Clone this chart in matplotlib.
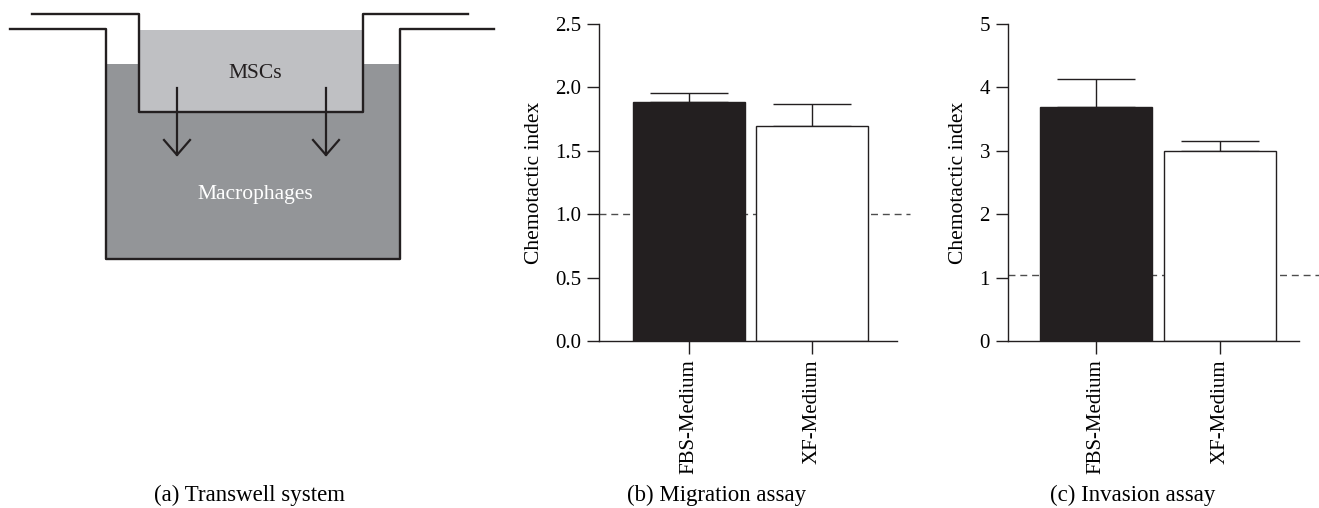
import matplotlib
matplotlib.use("Agg")
import matplotlib.pyplot as plt

plt.rcParams["font.family"] = "Liberation Serif"
plt.rcParams["font.size"] = 15

groups = ["FBS-Medium", "XF-Medium"]
migration = [1.885, 1.695]
migration_err = [0.068, 0.174]
invasion = [3.69, 2.99]
invasion_err = [0.44, 0.165]
bar_colors = ["#231f20", "white"]

W, H = 1319, 508
fig = plt.figure(figsize=(W / 100, H / 100), dpi=100)


def px_axes(x0, y0, x1, y1):
    # pixel box (top-left origin) -> figure axes
    return fig.add_axes([x0 / W, 1 - y1 / H, (x1 - x0) / W, (y1 - y0) / H])


# (a) transwell diagram
ax = px_axes(0, 0, 500, 280)
ax.set_xlim(0, 500)
ax.set_ylim(280, 0)
ax.axis("off")
ax.fill_between([106, 400], 64, 259, color="#939598", lw=0)
ax.fill_between([139, 363], 30, 112, color="#bfc0c3", lw=0)
ax.plot([10, 106, 106, 400, 400, 494], [29, 29, 259, 259, 29, 29], color="#231f20", lw=1.7)
ax.plot([32, 139, 139, 363, 363, 468], [14, 14, 112, 112, 14, 14], color="#231f20", lw=1.7)
for ax_x in [177, 326]:
    ax.plot([ax_x, ax_x], [88, 155], color="#231f20", lw=1.6)
    ax.plot([ax_x - 13, ax_x, ax_x + 13], [140, 155, 140], color="#231f20", lw=1.6)
ax.text(255, 73, "MSCs", ha="center", va="center", color="#231f20", fontsize=15.5)
ax.text(255, 195, "Macrophages", ha="center", va="center", color="white", fontsize=15.5)


def bar_panel(box, vals, errs, ylim, yticks, yfmt, xlim, dash_y, dash_end):
    a = px_axes(*box)
    x = [0, 1]
    a.plot([xlim[0], dash_end], [dash_y, dash_y], ls=(0, (5, 3.5)), color="#4d4d4d",
           lw=1.0, clip_on=False, zorder=1)
    a.bar(x, vals, width=0.91, color=bar_colors, edgecolor="#231f20", lw=1.0, zorder=2)
    a.errorbar(x, vals, yerr=[[0, 0], errs], fmt="none", ecolor="#231f20",
               elinewidth=1.0, capsize=28, capthick=1.0, zorder=1)
    a.set_xlim(*xlim)
    a.set_ylim(*ylim)
    a.set_yticks(yticks)
    a.set_yticklabels([yfmt.format(t) for t in yticks])
    a.set_xticks(x)
    a.set_xticklabels(groups, rotation=90)
    a.set_ylabel("Chemotactic index", fontsize=15.5, labelpad=8)
    for s in ["top", "right"]:
        a.spines[s].set_visible(False)
    for s in ["left", "bottom"]:
        a.spines[s].set_linewidth(1.0)
        a.spines[s].set_color("#231f20")
    a.tick_params(width=1.0, length=9, color="#231f20", labelsize=15, pad=4)
    a.patch.set_alpha(0)
    return a


bar_panel((599, 24, 897, 341), migration, migration_err, (0, 2.5),
          [0, 0.5, 1.0, 1.5, 2.0, 2.5], "{:.1f}", (-0.732, 1.691), 1.0, 1.797)
bar_panel((1008, 24, 1299, 341), invasion, invasion_err, (0, 5),
          [0, 1, 2, 3, 4, 5], "{:d}", (-0.71, 1.637), 1.04, 1.8)

fig.text(250 / W, 1 - 495 / H, "(a) Transwell system", ha="center", va="center", fontsize=16.5)
fig.text(717 / W, 1 - 495 / H, "(b) Migration assay", ha="center", va="center", fontsize=16.5)
fig.text(1133 / W, 1 - 495 / H, "(c) Invasion assay", ha="center", va="center", fontsize=16.5)

fig.savefig("out.png", dpi=100)
